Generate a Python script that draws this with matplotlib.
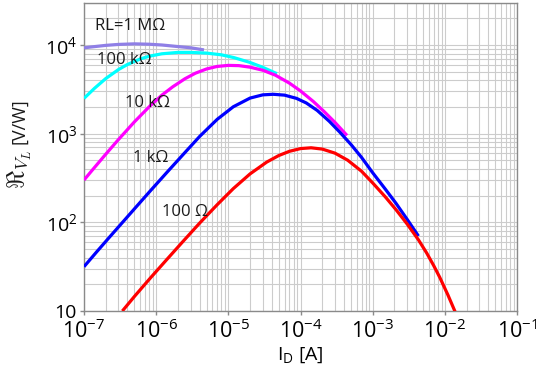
import math

import matplotlib
matplotlib.use("Agg")
import matplotlib.pyplot as plt
from matplotlib.ticker import FixedLocator, FuncFormatter, LogLocator, NullFormatter

plt.rcParams["font.family"] = ["Open Sans", "DejaVu Sans"]
plt.rcParams["mathtext.fontset"] = "custom"
plt.rcParams["mathtext.rm"] = "Open Sans"
plt.rcParams["mathtext.it"] = "Open Sans:italic"
plt.rcParams["mathtext.bf"] = "Open Sans:bold"

# responsivity vs drain current, one curve per load resistance
i_1m = [1e-7, 1.5e-7, 2e-7, 3e-7, 5e-7, 8e-7, 1.2e-6, 2e-6, 3e-6, 4.6e-6]
r_1m = [9.3e3, 9.65e3, 9.9e3, 1.015e4, 1.03e4, 1.02e4, 1.0e4, 9.6e3, 9.3e3, 8.8e3]

i_100k = [1e-7, 1.4e-7, 2e-7, 3e-7, 4e-7, 6e-7, 8e-7, 1.2e-6, 2e-6, 3e-6,
          5e-6, 8e-6, 1.2e-5, 2e-5, 3e-5, 4.7e-5]
r_100k = [2.5e3, 3.25e3, 4.18e3, 5.28e3, 6.03e3, 6.95e3, 7.47e3, 7.96e3, 8.25e3, 8.25e3,
          8.1e3, 7.75e3, 7.2e3, 6.35e3, 5.6e3, 4.75e3]

i_10k = [1e-7, 1.4e-7, 2e-7, 3e-7, 5e-7, 8e-7, 1.2e-6, 1.7e-6, 2.5e-6, 3.5e-6,
         5e-6, 7e-6, 1e-5, 1.4e-5, 2e-5, 3e-5, 4.5e-5, 7e-5, 1e-4, 1.5e-4,
         2.1e-4, 3e-4, 4.4e-4]
r_10k = [300, 416, 586, 858, 1.36e3, 2.01e3, 2.72e3, 3.38e3, 4.16e3, 4.81e3,
         5.37e3, 5.73e3, 5.89e3, 5.85e3, 5.62e3, 5.19e3, 4.56e3, 3.72e3, 3.03e3, 2.31e3,
         1.79e3, 1.34e3, 955]

i_1k = [1e-7, 1.5e-7, 2.2e-7, 3.2e-7, 5e-7, 8.2e-7, 1.4e-6, 2.4e-6, 4e-6, 7e-6,
        1.17e-5, 2e-5, 3e-5, 4.2e-5, 6e-5, 8.8e-5, 1.2e-4, 1.7e-4, 2.5e-4, 3.5e-4,
        5e-4, 7e-4, 1e-3, 1.5e-3, 2.1e-3, 3e-3, 4.3e-3]
r_1k = [31.6, 46.5, 66.5, 94, 142, 224, 364, 590, 930, 1.45e3,
        2.01e3, 2.52e3, 2.74e3, 2.78e3, 2.72e3, 2.5e3, 2.22e3, 1.83e3, 1.38e3, 1.04e3,
        755, 540, 362, 236, 164, 108, 70]

i_100 = [3.4e-7, 5e-7, 8.4e-7, 1.4e-6, 2.4e-6, 4e-6, 7e-6, 1.17e-5, 2e-5, 3.4e-5,
         5e-5, 7e-5, 1e-4, 1.4e-4, 2e-4, 3e-4, 4.5e-4, 7e-4, 1e-3, 1.5e-3,
         2.1e-3, 3e-3, 4.3e-3, 5.6e-3, 7e-3, 8.5e-3, 1.1e-2, 1.45e-2]
r_100 = [10, 14.6, 23.8, 38, 62, 98, 158, 240, 352, 478,
         567, 632, 679, 693, 670, 603, 502, 377, 278, 193,
         139, 95.7, 63.5, 45, 32.5, 23.9, 15.2, 9.0]

labels = ["RL=1 M\u03a9", "100 k\u03a9", "10 k\u03a9", "1 k\u03a9", "100 \u03a9"]
colors = ["#8f7fe6", "#00ffff", "#ff00ff", "#0000ff", "#ff0000"]

fig = plt.figure(figsize=(5.36, 3.73), dpi=100)
ax = fig.add_axes([0.1567, 0.1662, 0.808, 0.8266])

series = [(i_1m, r_1m), (i_100k, r_100k), (i_10k, r_10k), (i_1k, r_1k), (i_100, r_100)]
for (x, y), c in zip(series, colors):
    ax.plot(x, y, color=c, lw=2.3, solid_capstyle="butt", solid_joinstyle="round", zorder=3)

ax.set_xscale("log")
ax.set_yscale("log")
ax.set_xlim(1e-7, 1e-1)
ax.set_ylim(10, 3e4)

ax.xaxis.set_major_locator(FixedLocator([1e-7, 1e-6, 1e-5, 1e-4, 1e-3, 1e-2, 1e-1]))
ax.yaxis.set_major_locator(FixedLocator([10, 1e2, 1e3, 1e4]))
ax.xaxis.set_minor_locator(LogLocator(base=10, subs=range(2, 10), numticks=20))
ax.yaxis.set_minor_locator(LogLocator(base=10, subs=range(2, 10), numticks=20))
ax.xaxis.set_minor_formatter(NullFormatter())
ax.yaxis.set_minor_formatter(NullFormatter())


def pow_label(v, pos):
    e = int(round(math.log10(v)))
    return "10" if e == 1 else "10$^{%d}$" % e


ax.xaxis.set_major_formatter(FuncFormatter(pow_label))
ax.yaxis.set_major_formatter(FuncFormatter(pow_label))

ax.grid(True, which="both", color="#cccccc", lw=0.8, zorder=0)
ax.set_axisbelow(True)
for s in ax.spines.values():
    s.set_color("#8a8a8a")
    s.set_linewidth(1.0)
ax.tick_params(which="major", direction="out", length=3, color="#8a8a8a", width=1)
ax.tick_params(which="minor", length=0)
ax.tick_params(axis="x", labelsize=15.5, pad=3)
ax.tick_params(axis="y", labelsize=14, pad=2)

ax.set_xlabel(r"I$_\mathrm{D}$ [A]", fontsize=14, labelpad=2)

# y label: large fraktur symbol with subscript, then the unit in plain text
fig.text(0.038, 0.545, r"$\Re_{V_L}$", rotation=90, fontsize=18, math_fontfamily="cm",
         ha="center", va="center", color="#1a1a1a")
fig.text(0.036, 0.676, "[V/W]", rotation=90, fontsize=13,
         ha="center", va="center", color="#1a1a1a")

# curve labels, left-aligned in axes fractions
label_pos = [(0.025, 0.925), (0.030, 0.815), (0.095, 0.675), (0.113, 0.497), (0.180, 0.321)]
for txt, (tx, ty) in zip(labels, label_pos):
    ax.text(tx, ty, txt, transform=ax.transAxes, fontsize=12, ha="left",
            va="center", color="#1a1a1a", zorder=4)

fig.savefig("out.png", dpi=100)
